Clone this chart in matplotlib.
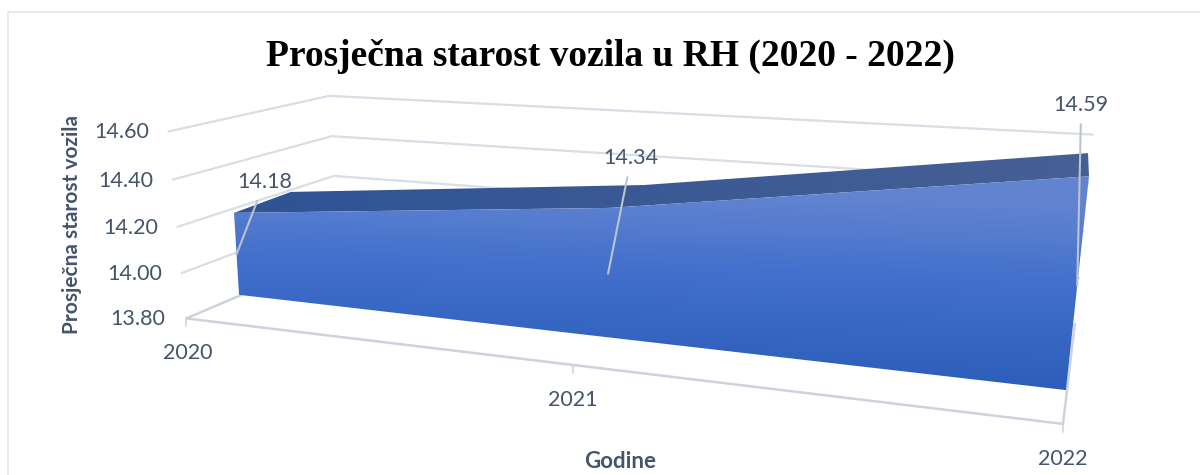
import numpy as np
import matplotlib
matplotlib.use('Agg')
import matplotlib.pyplot as plt
from matplotlib.patches import Polygon

years = ['2020', '2021', '2022']
ages = [14.18, 14.34, 14.59]
y_ticks = [13.80, 14.00, 14.20, 14.40, 14.60]

# depth range of the area inside the box (0 front, 1 back)
z_front = 0.34
z_back = 0.66
y_base = 13.80
y_top = 14.60

# camera: (category, value, depth) -> picture pixel
box_pts = [
    ((0, 13.8, 0), (187, 317)), ((2, 13.8, 0), (1063, 425)),
    ((0, 14.6, 0), (168, 132)), ((0, 14.6, 1), (330, 95)),
    ((2, 14.6, 1), (1092, 135)), ((0, 13.8, 1), (338, 255)),
    ((2, 13.8, 1), (1075, 323)),
]
# the area does not sit quite in the same perspective as the box, so it gets its own
area_pts = [
    ((0, 13.8, 0.34), (239, 295)),
    ((2, 13.8, 0.34), (1066, 390)), ((0, 14.18, 0.34), (232, 213)),
    ((2, 14.59, 0.34), (1087, 177)), ((1, 14.34, 0.34), (613, 207)),
    ((0, 14.18, 0.66), (293, 192)), ((2, 14.59, 0.66), (1090, 153)),
    ((1, 14.34, 0.66), (640, 185)),
]


def fit_camera(pts):
    rows = []
    for (x, y, z), (u, v) in pts:
        p = [x, y - y_base, z, 1]
        rows.append(p + [0, 0, 0, 0] + [-u * c for c in p])
        rows.append([0, 0, 0, 0] + p + [-v * c for c in p])
    A = np.array(rows, dtype=float)
    scale = np.abs(A).max(axis=0)
    return (np.linalg.svd(A / scale)[2][-1] / scale).reshape(3, 4)


cam_box = fit_camera(box_pts)
cam_area = fit_camera(area_pts)


def proj(x, y, z, cam=cam_box):
    q = cam @ np.array([x, y - y_base, z, 1.0])
    return q[0] / q[2], q[1] / q[2]


plt.rcParams['font.family'] = 'Lato'
text_col = '#44546A'
grid_col = '#D9DEE6'
axis_col = '#CDD3DC'
tick_size = 15.5

fig = plt.figure(figsize=(12, 4.75), dpi=100)
ax = fig.add_axes([0, 0, 1, 1])
ax.set_xlim(0, 1200)
ax.set_ylim(475, 0)
ax.axis('off')

# chart frame, only left and top are in the picture
ax.plot([8, 8, 1200], [475, 11.5, 11.5], color='#E3E6EB', lw=1.2)

# walls
for t in y_ticks[1:]:
    a, b, c = proj(0, t, 0), proj(0, t, 1), proj(2, t, 1)
    ax.plot([a[0], b[0], c[0]], [a[1], b[1], c[1]], color=grid_col, lw=1.6, zorder=1)
    ax.annotate('{:.2f}'.format(t), a, xytext=(-47, -1), textcoords='offset pixels',
                ha='center', va='center', fontsize=tick_size, color=text_col)
a = proj(0, y_ticks[0], 0)
ax.annotate('{:.2f}'.format(y_ticks[0]), a, xytext=(-49, -1), textcoords='offset pixels',
            ha='center', va='center', fontsize=tick_size, color=text_col)

# floor
floor = [proj(0, y_base, 1), proj(0, y_base, 0), proj(2, y_base, 0), proj(2, y_base, 1)]
ax.plot(*zip(*floor), color=axis_col, lw=1.8, zorder=1)
for i in range(3):
    p = proj(i, y_base, 0)
    ax.plot([p[0], p[0]], [p[1], p[1] + 8], color=axis_col, lw=1.1, zorder=1)

# category labels
label_off = [(1, 35), (0, 35), (0, 35)]
for i, name in enumerate(years):
    p = proj(i, y_base, 0)
    ax.annotate(name, p, xytext=(label_off[i][0], -label_off[i][1]), textcoords='offset pixels',
                ha='center', va='center', fontsize=tick_size, color=text_col)

# top face of the area
xs = np.arange(len(ages))
top_poly = [proj(i, ages[i], z_front, cam_area) for i in xs] + [proj(i, ages[i], z_back, cam_area) for i in xs[::-1]]
front_poly = [proj(i, ages[i], z_front, cam_area) for i in xs] + [proj(i, y_base, z_front, cam_area) for i in xs[::-1]]

h, w = 475, 1200
yy, xx = np.mgrid[0:h, 0:w]
tt = np.clip((xx - 230) / 860.0, 0, 1)[..., None]
top_img = (1 - tt) * np.array([0x2F, 0x53, 0x95]) + tt * np.array([0x47, 0x60, 0x94])
im = ax.imshow(top_img / 255, extent=(0, w, h, 0), zorder=2, aspect='auto')
im.set_clip_path(Polygon(top_poly, transform=ax.transData))

# front gradient runs from light (upper right) to dark (lower)
g = np.clip((yy - 0.03 * (xx - 600) - 190) / 195.0, 0, 1)[..., None]
stops = np.array([[0x62, 0x84, 0xD0], [0x42, 0x70, 0xCC], [0x2B, 0x5C, 0xB8]], dtype=float)
col = np.where(g < 0.4, stops[0] + (stops[1] - stops[0]) * g / 0.4,
               stops[1] + (stops[2] - stops[1]) * (g - 0.4) / 0.6)
im2 = ax.imshow(col / 255, extent=(0, w, h, 0), zorder=3, aspect='auto')
im2.set_clip_path(Polygon(front_poly, transform=ax.transData))
ax.set_xlim(0, 1200)
ax.set_ylim(475, 0)

# data labels with leader lines to the middle of the front face
label_pos = [(28, 72), (23, 115), (4, 180)]
for i, v in enumerate(ages):
    p = proj(i, (v + y_base) / 2, z_front, cam_area)
    dx, dy = label_pos[i]
    ax.plot([p[0], p[0] + dx * (1 - 19.0 / dy)], [p[1], p[1] - dy + 19],
            color='#BCC3CE', lw=1.5, zorder=4)
    ax.annotate('{:.2f}'.format(v), p, xytext=(dx, dy), textcoords='offset pixels',
                ha='center', va='center', fontsize=tick_size, color=text_col, zorder=5)

ax.text(610, 56, 'Prosječna starost vozila u RH (2020 - 2022)', ha='center', va='center',
        fontsize=27, fontweight='bold', family='Liberation Serif', color='black')
ax.text(72, 224, 'Prosječna starost vozila', rotation=90, ha='center', va='center',
        fontsize=15, fontweight='bold', color=text_col)
ax.text(620, 461, 'Godine', ha='center', va='center', fontsize=16, fontweight='bold', color=text_col)

fig.savefig('out.png', dpi=100)
